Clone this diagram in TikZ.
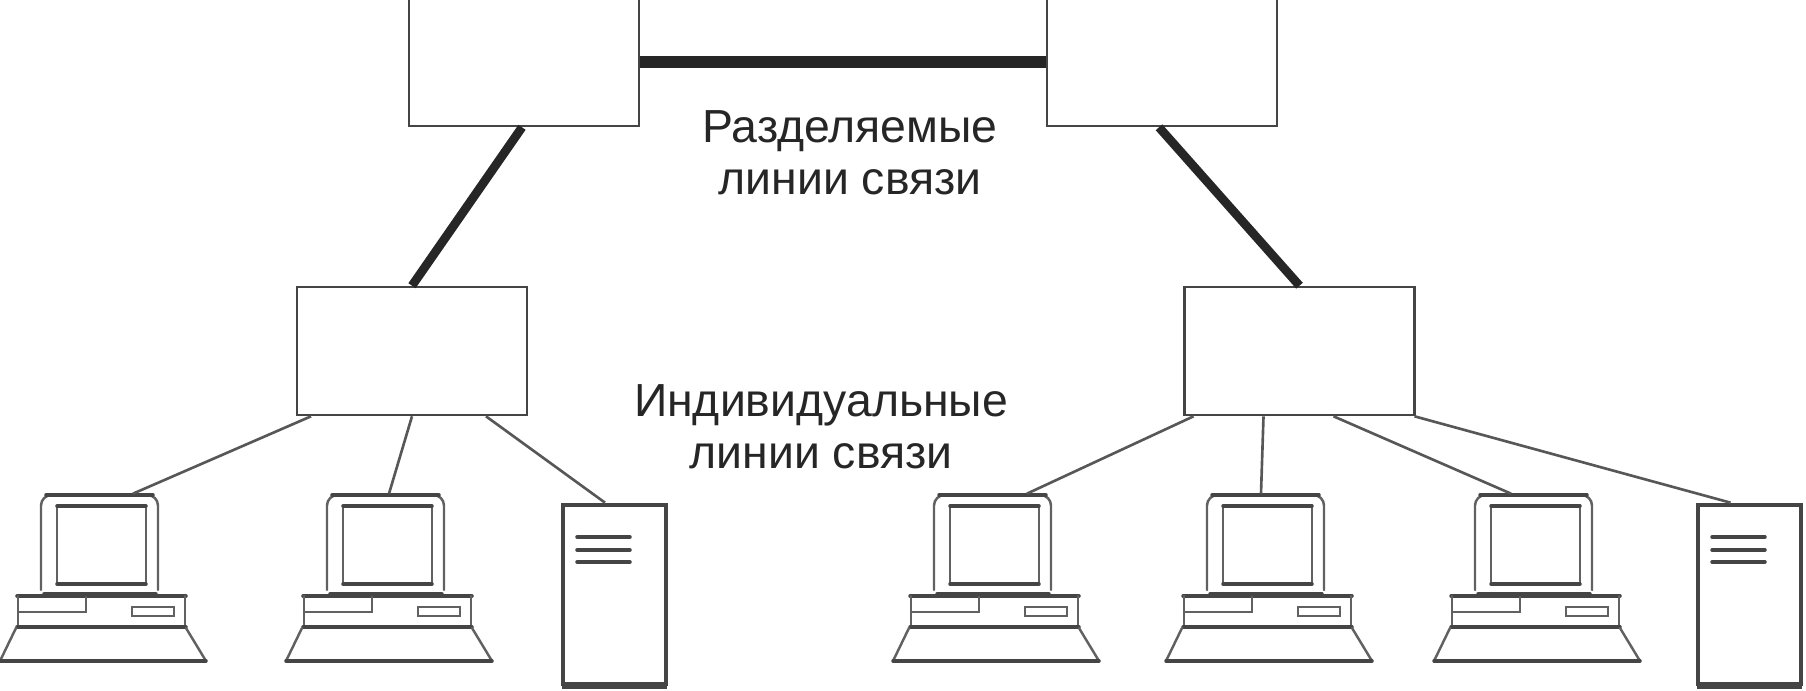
\documentclass[tikz,border=0pt]{standalone}
\usepackage{fontspec}
\setmainfont{Liberation Sans}
\usetikzlibrary{positioning,calc}
\definecolor{linegray}{gray}{0.27}
\definecolor{thickgray}{gray}{0.15}
\tikzset{
  hubbox/.style={draw=linegray,line width=1.5pt,fill=white,minimum width=4.6cm,minimum height=2.56cm,inner sep=0pt},
  sharedline/.style={draw=thickgray,line width=5pt},
  ownline/.style={draw=linegray!90,line width=1.5pt},
  caseline/.style={draw=linegray,line width=2pt,line cap=round},
  sideline/.style={draw=linegray!85,line width=1.4pt,line cap=round},
  caption/.style={font=\fontsize{26.4}{29.5}\selectfont,align=center,text=black!85},
  screenbox/.style={minimum width=2.36cm,minimum height=1.96cm,inner sep=0pt},
  towerbox/.style={minimum width=2.14cm,minimum height=3.72cm,inner sep=0pt}
}
\newcommand{\desktop}[2]{%
  \begin{scope}[shift={(#2,0)}]
    \node[screenbox] (#1) at (99,543) {};
    % monitor
    \draw[sideline,rounded corners=6] (41,590) -- (41,495) -- (50,495);
    \draw[sideline,rounded corners=6] (158,590) -- (158,495) -- (150,495);
    \draw[caseline] (46,495) -- (153,495);
    \draw[sideline] (57,506) -- (57,584);
    \draw[sideline] (146,506) -- (146,584);
    \draw[caseline] (57,506) -- (146,506);
    \draw[caseline] (57,584) -- (146,584);
    % case
    \draw[caseline] (17,596) -- (186,596);
    \draw[caseline] (44,594) -- (156,594);
    \draw[sideline] (18,596) -- (18,627);
    \draw[sideline] (185,596) -- (185,627);
    \draw[caseline] (17,627) -- (186,627);
    \draw[sideline] (18,612) -- (86,612) -- (86,597);
    \draw[sideline] (132,607) rectangle (174,616);
    % stand
    \draw[sideline] (16,628) -- (0,661);
    \draw[sideline] (186,628) -- (206,661);
    \draw[caseline] (0,661) -- (206,661);
  \end{scope}
}
\newcommand{\tower}[2]{%
  \begin{scope}[shift={(#2,0)}]
    \node[towerbox] (#1) at (614.5,596) {};
    \draw[draw=linegray,line width=2.2pt] (563,505) rectangle (666,684);
    \draw[draw=linegray,line width=4pt] (562,685.5) -- (667,685.5);
    \foreach \y in {537,550,562}
      \draw[caseline] (577,\y) -- (630,\y);
  \end{scope}
}
\begin{document}
\begin{tikzpicture}[x=0.02cm,y=-0.02cm]
\useasboundingbox (0,0) rectangle (1806,690);

\node[hubbox] (coreleft) at (524,62) {};
\node[hubbox] (coreright) at (1162,62) {};
\node[hubbox] (accessleft) at (412,351) {};
\node[hubbox] (accessright) at (1299.5,351) {};

\desktop{pca}{0}
\desktop{pcb}{286}
\tower{srva}{0}
\desktop{pcc}{893}
\desktop{pcd}{1166}
\desktop{pce}{1434}
\tower{srvb}{1135}

\draw[draw=thickgray,line width=6.5pt] (coreleft.east) -- (coreright.west);
\draw[sharedline] ([xshift=-0.04cm]coreleft.south) -- (accessleft.north);
\draw[sharedline] ([xshift=-0.06cm]coreright.south) -- (accessright.north);

\draw[ownline] ([xshift=-2.02cm]accessleft.south) -- ([xshift=0.68cm]pca.north);
\draw[ownline] (accessleft.south) -- ([xshift=0.08cm]pcb.north);
\draw[ownline] ([xshift=1.48cm]accessleft.south) -- ([xshift=-0.19cm]srva.north);
\draw[ownline] ([xshift=-2.12cm]accessright.south) -- ([xshift=0.7cm]pcc.north);
\draw[ownline] ([xshift=-0.72cm]accessright.south) -- ([xshift=-0.08cm]pcd.north);
\draw[ownline] ([xshift=0.68cm]accessright.south) -- ([xshift=-0.44cm]pce.north);
\draw[ownline] ([xshift=2.3cm]accessright.south) -- ([xshift=-0.38cm]srvb.north);

\node[caption] (sharedtext) at (850,153) {Разделяемые\\линии связи};
\node[caption] (owntext) at (821,427) {Индивидуальные\\линии связи};
\end{tikzpicture}
\end{document}
